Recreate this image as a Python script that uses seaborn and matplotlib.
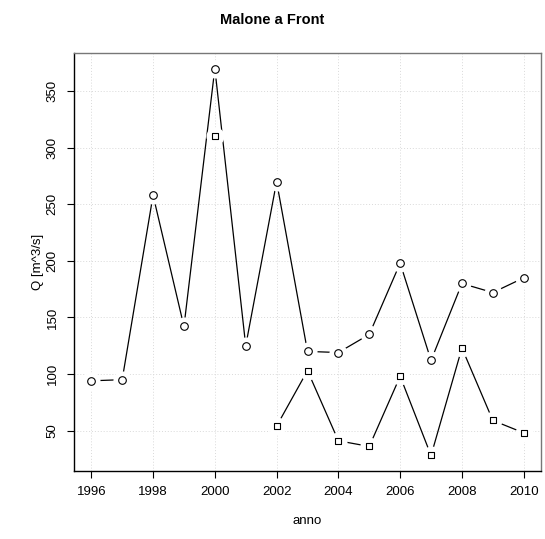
import numpy as np
import pandas as pd
import matplotlib
matplotlib.use("Agg")
import matplotlib.pyplot as plt
import seaborn as sns

# Data
anni = list(range(1996, 2011))
q_cerchi = [94, 95, 258, 142, 370, 125, 270, 120, 119, 135, 198, 112, 180, 172, 185]
q_quadrati = [np.nan, np.nan, np.nan, np.nan, 310, np.nan, 54, 103, 41, 36, 98, 28, 123, 59, 48]

sns.set_theme(style="white")
plt.rcParams['font.family'] = ['Liberation Sans', 'DejaVu Sans']
plt.rcParams['text.color'] = 'black'
plt.rcParams['axes.labelcolor'] = 'black'

df = pd.DataFrame({"anno": anni, "c": q_cerchi, "s": q_quadrati})

fig = plt.figure(figsize=(5.45, 5.39), dpi=100)
ax = fig.add_axes([74 / 545, 1 - 471 / 539, (541 - 74) / 545, (471 - 53) / 539])

# grid
for x in range(1996, 2011, 2):
    ax.axvline(x, color="#d9d9d9", lw=0.7, ls=(0, (1, 2)), zorder=0)
for y in range(50, 351, 50):
    ax.axhline(y, color="#d9d9d9", lw=0.7, ls=(0, (1, 2)), zorder=0)

# lines (break at missing values for the squares)
sns.lineplot(data=df, x="anno", y="c", color="black", lw=0.9, ax=ax, zorder=1)
seg = df.copy()
seg["gruppo"] = seg["s"].isna().cumsum()
seg = seg.dropna(subset=["s"])
sns.lineplot(data=seg, x="anno", y="s", units="gruppo", estimator=None,
             color="black", lw=0.9, ax=ax, zorder=1)

# white halos to make the gaps like R type="b"
sns.scatterplot(data=df, x="anno", y="c", s=170, facecolor="white", edgecolor="white",
                linewidth=0, ax=ax, zorder=2)
sns.scatterplot(data=seg, x="anno", y="s", s=170, facecolor="white", edgecolor="white",
                linewidth=0, ax=ax, zorder=2)

# markers
sns.scatterplot(data=df, x="anno", y="c", marker="o", s=30, facecolor="white",
                edgecolor="black", linewidth=0.8, ax=ax, zorder=3)
sns.scatterplot(data=seg, x="anno", y="s", marker="s", s=22, facecolor="white",
                edgecolor="black", linewidth=0.8, ax=ax, zorder=3)

ax.set_xlim(1995.44, 2010.56)
ax.set_ylim(14.3, 383.7)
ax.set_xticks(range(1996, 2011, 2))
ax.set_yticks(range(50, 351, 50))
ax.tick_params(axis="both", direction="out", length=5, width=0.8, labelsize=9.5,
               colors="black", left=True, bottom=True, pad=6)
for lab in ax.get_yticklabels():
    lab.set_rotation(90)
    lab.set_va("center")

for side in ["left", "bottom"]:
    ax.spines[side].set_color("black")
    ax.spines[side].set_linewidth(1.0)
for side in ["top", "right"]:
    ax.spines[side].set_color("#777777")
    ax.spines[side].set_linewidth(1.0)

ax.set_xlabel("anno", fontsize=9.5, labelpad=12)
ax.set_ylabel("Q [m^3/s]", fontsize=9.5, labelpad=2)
fig.text(0.5, 1 - 20 / 539, "Malone a Front", ha="center", va="center",
         fontsize=10.5, fontweight="bold", color="black")

fig.savefig("out.png", dpi=100)
